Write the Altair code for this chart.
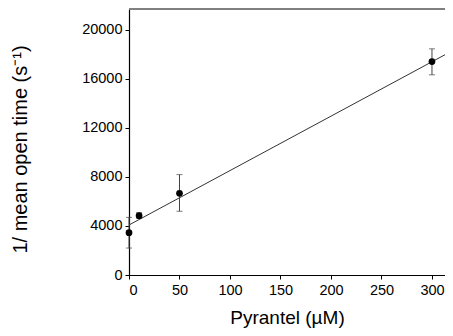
import altair as alt
import pandas as pd

# Data
conc = [0, 10, 50, 300]
rate = [3450, 4840, 6670, 17410]
err_lo = [2200, 4630, 5200, 16330]
err_hi = [4700, 5080, 8190, 18450]

fit_x = [0, 312.9]
fit_y = [4080, 17970]

x_ticks = [0, 50, 100, 150, 200, 250, 300]
y_ticks = [0, 4000, 8000, 12000, 16000, 20000]

X_MAX = 312.9
Y_MAX = 21700

pts = pd.DataFrame({"conc": conc, "rate": rate, "lo": err_lo, "hi": err_hi})
fit = pd.DataFrame({"conc": fit_x, "rate": fit_y})
top = pd.DataFrame({"x0": [0], "x1": [X_MAX], "y": [Y_MAX]})

FONT = "Liberation Sans"

xscale = alt.Scale(domain=[0, X_MAX], nice=False, zero=False)
yscale = alt.Scale(domain=[0, Y_MAX], nice=False, zero=False)

xaxis = alt.Axis(
    values=x_ticks, title="Pyrantel (µM)", grid=False, format="d",
    labelFont=FONT, labelFontSize=14.5, labelColor="black",
    titleFont=FONT, titleFontSize=19, titleFontWeight="normal", titleColor="black",
    tickSize=4, tickColor="black", domainColor="black", domainWidth=1.2,
    labelPadding=4, titleBaseline="alphabetic", titleY=48,
)
yaxis = alt.Axis(
    values=y_ticks, title="1/ mean open time (s⁻¹)", grid=False, format="d",
    labelFont=FONT, labelFontSize=14.5, labelColor="black",
    titleFont=FONT, titleFontSize=20, titleFontWeight="normal", titleColor="black",
    tickSize=4, tickColor="black", domainColor="black", domainWidth=1.2,
    labelPadding=3, titleX=-99, titleY=140,
)

line = alt.Chart(fit).mark_line(color="#333333", strokeWidth=1, clip=True).encode(
    x=alt.X("conc:Q", scale=xscale, axis=xaxis),
    y=alt.Y("rate:Q", scale=yscale, axis=yaxis),
)

bars = alt.Chart(pts).mark_rule(color="#444444", strokeWidth=1).encode(
    x="conc:Q", y="lo:Q", y2="hi:Q"
)
caps_hi = alt.Chart(pts).mark_tick(color="#444444", thickness=1, size=6, orient="horizontal").encode(
    x="conc:Q", y="hi:Q"
)
caps_lo = alt.Chart(pts).mark_tick(color="#444444", thickness=1, size=6, orient="horizontal").encode(
    x="conc:Q", y="lo:Q"
)
dots = alt.Chart(pts).mark_circle(color="black", opacity=1, size=45).encode(
    x="conc:Q", y="rate:Q"
)
topline = alt.Chart(top).mark_rule(color="#808080", strokeWidth=2).encode(
    x="x0:Q", x2="x1:Q", y="y:Q"
)

chart = alt.layer(line, bars, caps_hi, caps_lo, dots, topline).properties(
    width=316, height=266,
    autosize=alt.AutoSizeParams(type="none"),
    padding={"left": 121, "top": 1, "right": 0, "bottom": 55},
).configure_view(stroke=None).configure(background="white")

chart.save("out.html", embed_options={"renderer": "svg", "actions": False})
